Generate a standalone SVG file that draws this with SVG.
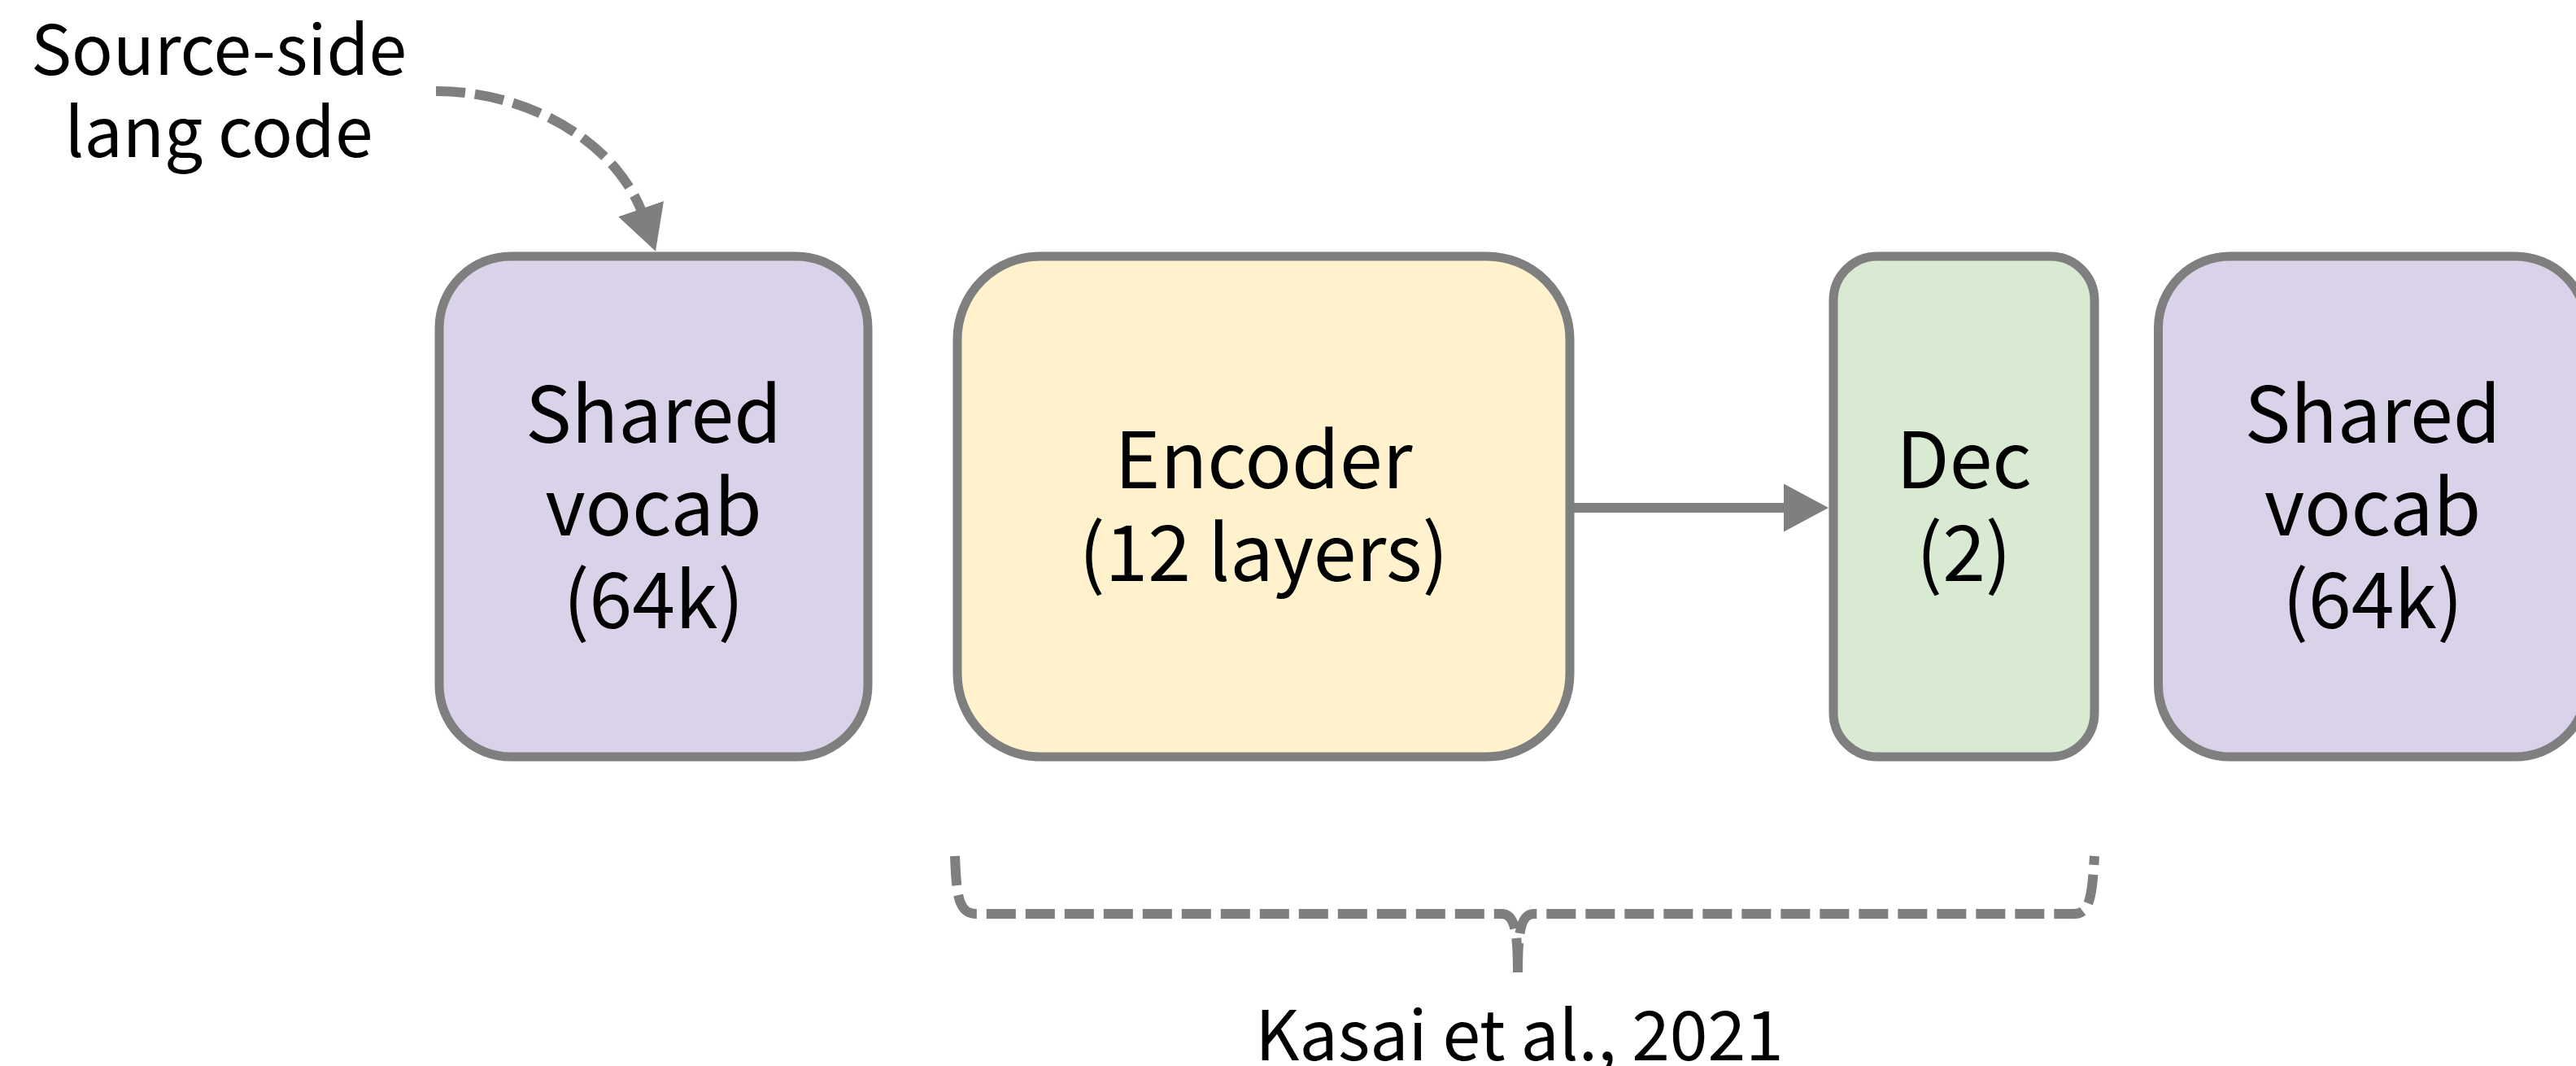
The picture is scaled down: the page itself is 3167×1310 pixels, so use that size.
<svg xmlns="http://www.w3.org/2000/svg" width="3167" height="1310" viewBox="0 0 3167 1310">
  <style>
    .box { stroke: #7f7f7f; stroke-width: 11; }
    .vocab { fill: #d9d2e9; }
    .enc { fill: #fff2cc; }
    .dec { fill: #d9ead3; }
    .lbl { font-family: "Noto Sans CJK KR", "Noto Sans", sans-serif; font-size: 95px; fill: #000; text-anchor: middle; }
    .note { font-family: "Noto Sans CJK KR", "Noto Sans", sans-serif; font-size: 84px; fill: #000; text-anchor: middle; }
    .wire { fill: none; stroke: #7f7f7f; stroke-width: 12; }
    .dash { stroke-dasharray: 36 12; }
  </style>
  <defs>
    <marker id="head" markerUnits="userSpaceOnUse" markerWidth="56" markerHeight="60" refX="12" refY="29.5" orient="auto">
      <path d="M0,0 L55,29.5 L0,59 Z" fill="#7f7f7f"/>
    </marker>
  </defs>
  <rect width="3167" height="1310" fill="#ffffff"/>

  <g id="vocab-src">
    <rect class="box vocab" x="540" y="315" width="527" height="615" rx="88" ry="88"/>
    <text class="lbl" x="803.5" y="544">Shared</text>
    <text class="lbl" x="803.5" y="658">vocab</text>
    <text class="lbl" x="803.5" y="772">(64k)</text>
  </g>

  <g id="encoder">
    <rect class="box enc" x="1177" y="315" width="753" height="615" rx="102" ry="102"/>
    <text class="lbl" x="1553.5" y="600">Encoder</text>
    <text class="lbl" x="1553.5" y="714">(12 layers)</text>
  </g>

  <g id="decoder">
    <rect class="box dec" x="2254" y="315" width="321" height="615" rx="54" ry="54"/>
    <text class="lbl" x="2414.5" y="600">Dec</text>
    <text class="lbl" x="2414.5" y="714">(2)</text>
  </g>

  <g id="vocab-tgt">
    <rect class="box vocab" x="2653.5" y="315" width="527" height="615" rx="88" ry="88"/>
    <text class="lbl" x="2917" y="544">Shared</text>
    <text class="lbl" x="2917" y="658">vocab</text>
    <text class="lbl" x="2917" y="772">(64k)</text>
  </g>

  <g id="lang-code">
    <text class="note" x="269" y="92">Source-side</text>
    <text class="note" x="269" y="193">lang code</text>
  </g>

  <g id="citation">
    <text class="note" x="1868" y="1303">Kasai et al., 2021</text>
  </g>

  <g id="connectors">
    <path class="wire" d="M1930,624 L2205,624" marker-end="url(#head)"/>
    <path class="wire dash" d="M536,112 C650,112 760,175 792,268" marker-end="url(#head)"/>
    <path class="wire dash" d="M1174,1052 C1176,1100 1178,1123 1200,1123 L1846,1123 C1861,1123 1866,1140 1866,1195 M1866,1195 C1866,1140 1871,1123 1886,1123 L2550,1123 C2570,1123 2572,1100 2575,1052"/>
  </g>
</svg>
